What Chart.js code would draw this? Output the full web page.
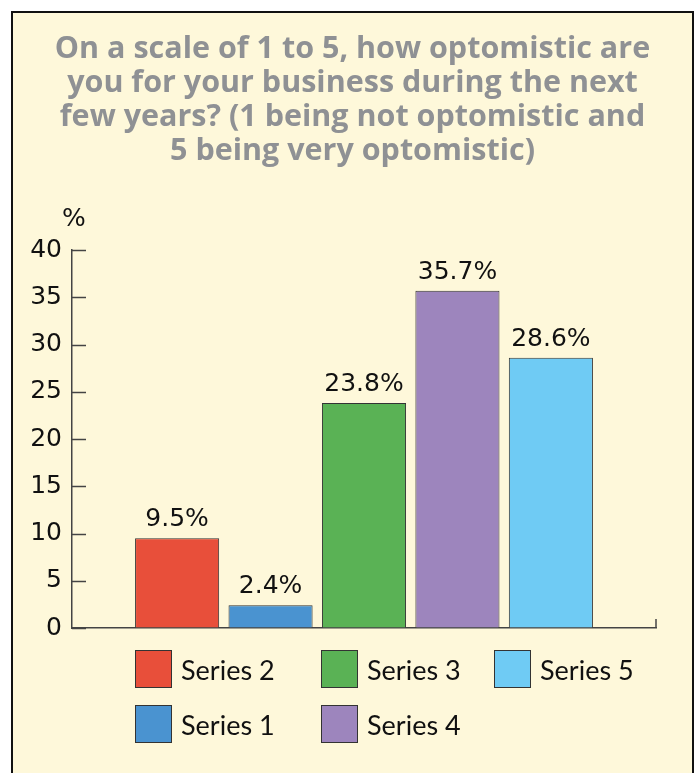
<!DOCTYPE html>
<html>
<head>
<meta charset="utf-8">
<script src="https://cdn.jsdelivr.net/npm/chart.js"></script>
<style>
  body { margin: 0; background: #fff; }
  #frame {
    position: absolute; left: 11px; top: 11px;
    width: 679px; height: 790px;
    border: 2px solid #111; background: #fef8da;
  }
  #wrap { position: absolute; left: 0; top: 0; width: 679px; height: 640px; }
  .leg { position: absolute; display: flex; align-items: center; height: 38px;
         font-family: Lato, sans-serif; font-size: 27px; color: #111; }
  .leg span.box { display: inline-block; width: 35px; height: 36px; border: 1.5px solid #333; margin-right: 9px; }
</style>
</head>
<body>
<div id="frame">
  <div id="wrap"><canvas id="c"></canvas></div>
  <div id="legend"></div>
</div>
<script>
// data
const titleLines = [
  'On a scale of 1 to 5, how optomistic are',
  'you for your business during the next',
  'few years? (1 being not optomistic and',
  '5 being very optomistic)'
];
const seriesNames = ['Series 2', 'Series 1', 'Series 3', 'Series 4', 'Series 5'];
const seriesValues = [9.5, 2.4, 23.8, 35.7, 28.6];
const yMin = 0, yMax = 40, yStep = 5;
const yUnit = '%';

const seriesColors = ['#e84f3a', '#4a93d0', '#5ab255', '#9d85bd', '#6fcbf4'];

// ticks inside the axis, "%" label and value labels
const extras = {
  id: 'extras',
  afterDraw(chart) {
    const ctx = chart.ctx, a = chart.chartArea, y = chart.scales.y;
    ctx.save();
    ctx.strokeStyle = '#444';
    ctx.lineWidth = 1.5;
    y.ticks.forEach((t, i) => {
      const py = Math.round(y.getPixelForTick(i)) + 0.5;
      ctx.beginPath(); ctx.moveTo(a.left, py); ctx.lineTo(a.left + 14, py); ctx.stroke();
    });
    ctx.beginPath(); ctx.moveTo(a.right, a.bottom); ctx.lineTo(a.right, a.bottom - 9); ctx.stroke();

    ctx.fillStyle = '#111';
    ctx.font = '25px "DejaVu Sans"';
    ctx.textAlign = 'center';
    ctx.textBaseline = 'middle';
    ctx.fillText(yUnit, a.left + 2, a.top - 31);

    ctx.textBaseline = 'bottom';
    chart.data.datasets.forEach((ds, i) => {
      const bar = chart.getDatasetMeta(i).data[0];
      ctx.fillText(ds.data[0] + '%', bar.x, bar.y - 6);
    });
    ctx.restore();
  }
};

new Chart(document.getElementById('c'), {
  type: 'bar',
  data: {
    labels: [''],
    datasets: seriesNames.map((n, i) => ({
      label: n,
      data: [seriesValues[i]],
      backgroundColor: seriesColors[i],
      borderColor: '#333',
      borderWidth: 1,
      categoryPercentage: 0.8,
      barPercentage: 0.9
    }))
  },
  options: {
    responsive: true,
    maintainAspectRatio: false,
    animation: false,
    layout: { padding: { left: 0, right: 0, top: 0, bottom: 25 } },
    plugins: {
      legend: { display: false },
      tooltip: { enabled: false },
      title: {
        display: true,
        text: titleLines,
        color: '#8f9194',
        font: { family: 'Open Sans', size: 30.5, weight: 'bold', lineHeight: 34 / 30.5 },
        padding: { top: 19, bottom: 82 }
      }
    },
    scales: {
      x: {
        grid: { display: false, drawTicks: false },
        border: { display: true, color: '#444', width: 1.5 },
        ticks: { display: false },
        afterFit(s) { s.height = 0; }
      },
      y: {
        min: yMin, max: yMax,
        grid: { drawOnChartArea: false, drawTicks: false },
        border: { display: true, color: '#444', width: 1.5 },
        ticks: {
          stepSize: yStep, padding: 10, color: '#111',
          font: { family: 'DejaVu Sans', size: 25 }
        },
        afterFit(s) { s.width = 59; }
      },
      // empty right-hand spacer so the plot ends short of the frame
      yRight: {
        position: 'right',
        display: true,
        grid: { display: false, drawTicks: false },
        border: { display: false },
        ticks: { display: false },
        afterFit(s) { s.width = 36; }
      }
    }
  },
  plugins: [extras]
});

// legend laid out in columns, two rows per column
const legCols = [122, 308, 481];
const legRows = [637, 692];
const legend = document.getElementById('legend');
seriesNames.forEach((n, i) => {
  const d = document.createElement('div');
  d.className = 'leg';
  d.style.left = legCols[Math.floor(i / 2)] + 'px';
  d.style.top = legRows[i % 2] + 'px';
  d.innerHTML = '<span class="box" style="background:' + seriesColors[i] + '"></span>' + n;
  legend.appendChild(d);
});
</script>
</body>
</html>
